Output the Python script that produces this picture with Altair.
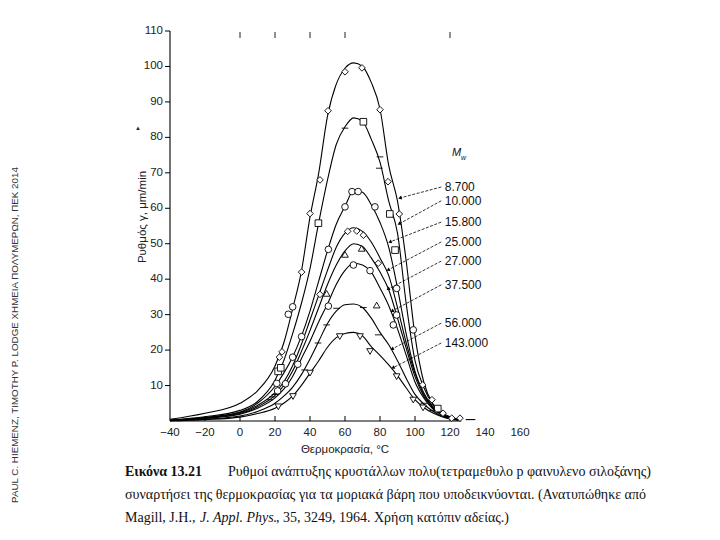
import math
import altair as alt
import pandas as pd

# ---------------- data ----------------
temps = [-40, -20, 0, 10, 20, 25, 30, 35, 40, 45, 50, 55, 60, 65, 70, 75, 80, 85, 90, 95, 100, 105, 110, 115, 120, 125]

mw_labels = ["8.700", "10.000", "15.800", "25.000", "27.000", "37.500", "56.000", "143.000"]

rate_8700 = [0.5, 2.2, 5, 8.5, 15.5, 22, 31.5, 42, 57.5, 70, 86, 95, 99.5, 101, 100, 95.5, 88, 72, 62, 45, 24, 11, 5, 2.5, 1.2, 0.5]
rate_10000 = [0.3, 1.2, 3, 5.5, 11.5, 17, 24.5, 33, 43, 56, 68, 78, 83, 85.5, 84.5, 79.5, 73, 62, 53, 33, 17, 9.5, 4.8, 2.3, 1, 0.4]
rate_15800 = [0.2, 1, 2.5, 5, 9.8, 13.5, 18, 23.8, 31, 39.5, 48, 55.5, 60.5, 65, 64.5, 61, 56, 49, 37.5, 24.5, 14, 8, 4.2, 2, 0.9, 0.3]
rate_25000 = [0.2, 0.9, 2.3, 4.4, 8, 11, 15.5, 21.5, 28.5, 35.5, 42.5, 49, 53, 54.5, 53.5, 50.5, 46, 41, 32, 22, 13.5, 7.5, 4, 2, 0.9, 0.3]
rate_27000 = [0.15, 0.8, 2.1, 4, 7.2, 10, 14, 19.5, 25.5, 32, 38.5, 44, 48, 50, 49.2, 46, 42, 37, 29, 20.5, 12.5, 7, 3.8, 1.9, 0.8, 0.3]
rate_37500 = [0.1, 0.7, 1.9, 3.6, 6.5, 9, 12.5, 17.5, 22.5, 28, 33, 38.5, 42.5, 44.5, 44, 42, 37.5, 32.5, 26, 18.5, 11, 6.5, 3.5, 1.8, 0.8, 0.3]
rate_56000 = [0.1, 0.5, 1.4, 2.7, 5, 7, 9.5, 13, 17.5, 22.5, 27.5, 31, 32.8, 33, 32, 29, 25, 21.5, 17, 12, 7.5, 4.8, 2.8, 1.5, 0.7, 0.3]
rate_143000 = [0.05, 0.4, 1.1, 2.1, 3.6, 5, 7, 10, 13.5, 17, 20.8, 23.5, 24.7, 25, 24, 21, 18.5, 15.8, 12.8, 9.3, 6, 3.8, 2.3, 1.3, 0.6, 0.2]

curves = [rate_8700, rate_10000, rate_15800, rate_25000, rate_27000, rate_37500, rate_56000, rate_143000]

# measured points (marker shape, temperature, rate)
pt_shape = (["diamond"] * 21 + ["square"] * 7 + ["stroke"] * 3 + ["circle"] * 20
            + ["triangle-up"] * 4 + ["stroke"] * 11 + ["triangle-down"] * 9)
pt_temp = ([24, 22.5, 35.2, 40, 45.7, 50.3, 60, 69.7, 80, 84.6, 91, 104.4, 109.7, 116, 121, 125.7,
            45.7, 61.5, 66.7, 70.5, 79]
           + [21.8, 23.3, 44.8, 70.5, 85.6, 88.6, 113]
           + [60, 80, 79.6]
           + [21, 30.1, 35.2, 50.5, 60, 64, 67.5, 77.1, 89.5, 27.6, 30.1, 99,
              50.5, 64.8, 74.3, 87.6, 89.5, 21.5, 26, 33]
           + [60, 69.5, 78.1, 49.5]
           + [37, 44.6, 49.5, 55.2, 70.5, 79, 17, 18.5, 20, 105, 110]
           + [21.9, 30.3, 40, 57, 68.6, 74.3, 89.5, 99, 104.6])
pt_rate = ([19.5, 18, 42, 58.5, 68, 87.5, 98.5, 99.6, 87.8, 67.5, 58.4, 10.2, 6, 2.2, 0.8, 0.8,
            35.7, 53.5, 53.6, 52.4, 44.5]
           + [14, 15, 55.8, 84.4, 58.4, 48.2, 3.5]
           + [82.6, 74.5, 71.3]
           + [10.6, 18, 23.8, 48.4, 60.4, 64.7, 64.7, 60.4, 37.4, 30.1, 32.2, 25.7,
              32.4, 44, 42.4, 27.1, 29.9, 8.5, 10.5, 16]
           + [47, 48.7, 32.7, 36]
           + [14.4, 22, 27.1, 31.8, 32, 24.3, 6, 6.8, 7.5, 5, 3]
           + [4, 6.9, 13.5, 23.8, 23.8, 19.6, 12.5, 5.9, 3.7])

# annotation labels and arrows (data units)
lab_temp = 117
lab_rate = [66.0, 62.1, 56.1, 50.5, 45.1, 38.4, 27.6, 22.0]
arrow_tip_temp = [91.4, 90.9, 85.7, 84.6, 84.6, 86.9, 86.9, 87.4]
arrow_tip_rate = [62.9, 55.6, 50.5, 42.6, 37.2, 31.0, 20.3, 15.0]
arrow_start_temp = 115

x_ticks = [-40, -20, 0, 20, 40, 60, 80, 100, 120, 140, 160]
x_tick_labels = ["−40", "−20", "0", "20", "40", "60", "80", "100", "120", "140", "160"]
y_ticks = [10, 20, 30, 40, 50, 60, 70, 80, 90, 100, 110]
y_tick_labels = ["10", "20", "30", "40", "50", "60", "70", "80", "90", "100", "110"]
inner_ticks = [-20, 0, 20, 40, 60, 80, 100, 120]
top_marks = [0, 20, 40, 60, 120]
x_line = [-40, 126.5]
x_stub = [129, 134.5]

# ---------------- chart ----------------
W, H = 350, 390
XD, YD = [-40, 160], [0, 110]
xs = alt.Scale(domain=XD, nice=False, zero=False)
ys = alt.Scale(domain=YD, nice=False, zero=False)


def X(field):
    return alt.X(field, scale=xs, axis=None)


def Y(field):
    return alt.Y(field, scale=ys, axis=None)


rows = []
for lab, vals in zip(mw_labels, curves):
    for t, v in zip(temps, vals):
        rows.append({"mw": lab, "t": t, "r": v})
curve_df = pd.DataFrame(rows)

lines = alt.Chart(curve_df).mark_line(interpolate="monotone", color="black", strokeWidth=1.1).encode(
    x=X("t:Q"), y=Y("r:Q"), detail="mw:N")

pts_df = pd.DataFrame({"shape": pt_shape, "t": pt_temp, "r": pt_rate})
points = alt.Chart(pts_df).mark_point(filled=True, fill="white", stroke="black", strokeWidth=0.9,
                                      size=44, opacity=1).encode(
    x=X("t:Q"), y=Y("r:Q"), shape=alt.Shape("shape:N", scale=None))

# ---- axes drawn from the tick arrays ----
axis_df = pd.DataFrame({"t": [x_line[0], x_stub[0]], "t2": [x_line[1], x_stub[1]], "r": [0, 0.4]})
xaxis = alt.Chart(axis_df).mark_rule(color="black", strokeWidth=1.1).encode(
    x=X("t:Q"), x2="t2:Q", y=Y("r:Q"))

yaxis = alt.Chart(pd.DataFrame({"t": [XD[0]], "r": [YD[0]], "r2": [YD[1]]})).mark_rule(
    color="black", strokeWidth=1.1).encode(x=X("t:Q"), y=Y("r:Q"), y2="r2:Q")

ytick_df = pd.DataFrame({"r": y_ticks, "lab": y_tick_labels})
yticks = alt.Chart(ytick_df).mark_rule(color="black", strokeWidth=1).encode(
    y=Y("r:Q"), x=alt.value(-5), x2=alt.value(0))
ylabels = alt.Chart(ytick_df).mark_text(align="right", baseline="middle", fontSize=11.5,
                                        font="Liberation Sans", color="#222").encode(
    y=Y("r:Q"), x=alt.value(-7), text="lab:N")

xlab_df = pd.DataFrame({"t": x_ticks, "lab": x_tick_labels})
xlabels = alt.Chart(xlab_df).mark_text(align="center", baseline="middle", fontSize=11.5,
                                       font="Liberation Sans", color="#222").encode(
    x=X("t:Q"), y=alt.value(H + 12), text="lab:N")

tick_df = pd.DataFrame({"t": inner_ticks})
inticks = alt.Chart(tick_df).mark_rule(color="black", strokeWidth=1).encode(
    x=X("t:Q"), y=alt.value(H), y2=alt.value(H - 5))

top_df = pd.DataFrame({"t": top_marks})
topticks = alt.Chart(top_df).mark_rule(color="#222", strokeWidth=1).encode(
    x=X("t:Q"), y=alt.value(1), y2=alt.value(7))

# arrows
px_per_t = W / (XD[1] - XD[0])
px_per_r = H / (YD[1] - YD[0])
angles = []
for sr, tt, tr in zip(lab_rate, arrow_tip_temp, arrow_tip_rate):
    dx = (tt - arrow_start_temp) * px_per_t
    dy = -(tr - sr) * px_per_r
    angles.append(math.degrees(math.atan2(dx, -dy)) % 360)
arr_df = pd.DataFrame({"mw": mw_labels, "t": [arrow_start_temp] * 8, "r": lab_rate,
                       "t2": arrow_tip_temp, "r2": arrow_tip_rate, "ang": angles})
arrows = alt.Chart(arr_df).mark_rule(color="black", strokeWidth=0.8, strokeDash=[3, 1.5]).encode(
    x=X("t:Q"), y=Y("r:Q"), x2="t2:Q", y2="r2:Q")
heads = alt.Chart(arr_df).mark_point(shape="triangle-up", filled=True, color="black", size=16,
                                     opacity=1).encode(
    x=X("t2:Q"), y=Y("r2:Q"), angle=alt.Angle("ang:Q", scale=None))

lab_df = pd.DataFrame({"mw": mw_labels, "t": [lab_temp] * 8, "r": lab_rate})
labels = alt.Chart(lab_df).mark_text(align="left", baseline="middle", fontSize=12,
                                     font="Liberation Sans", color="#111").encode(
    x=X("t:Q"), y=Y("r:Q"), text="mw:N")

mw_m = alt.Chart(pd.DataFrame({"t": [121.2], "r": [75.6], "s": ["M"]})).mark_text(
    align="left", baseline="middle", fontSize=11, fontStyle="italic", font="Liberation Sans",
    color="#111").encode(x=X("t:Q"), y=Y("r:Q"), text="s:N")
mw_w = alt.Chart(pd.DataFrame({"t": [126.3], "r": [74.2], "s": ["w"]})).mark_text(
    align="left", baseline="middle", fontSize=7, fontStyle="italic", font="Liberation Sans",
    color="#111").encode(x=X("t:Q"), y=Y("r:Q"), text="s:N")


def txt(s, x, y, **kw):
    opts = dict(font="Liberation Sans", fontSize=11.5, color="#222", align="left", baseline="middle")
    opts.update(kw)
    return alt.Chart(pd.DataFrame({"s": [s]})).mark_text(**opts).encode(
        x=alt.value(x), y=alt.value(y), text="s:N")


ytitle = txt("Ρυθμός γ, μm/min", -27, 186, angle=270, align="center")
xtitle = txt("Θερμοκρασία, °C", 175, 419, align="center")
tri = txt("▲", -32, 97, fontSize=6, align="center")

side = txt("PAUL C. HIEMENZ, TIMOTHY P. LODGE ΧΗΜΕΙΑ ΠΟΛΥΜΕΡΩΝ, ΠΕΚ 2014", -155, 304,
           angle=270, align="center", fontSize=9.8, color="#333")

serif = "Liberation Serif"
CF = 14
cap1a = txt("Εικόνα 13.21", -45, 441, font=serif, fontSize=CF, fontWeight="bold", color="#111")
cap1b = txt("Ρυθμοί ανάπτυξης κρυστάλλων πολυ(τετραμεθυλο p φαινυλενο σιλοξάνης)", 58, 441,
            font=serif, fontSize=CF, color="#111")
cap2 = txt("συναρτήσει της θερμοκρασίας για τα μοριακά βάρη που υποδεικνύονται. (Ανατυπώθηκε από",
           -45, 464, font=serif, fontSize=CF, color="#111")
cap3a = txt("Magill, J.H.,", -45, 487, font=serif, fontSize=CF, color="#111")
cap3b = txt("J. Appl. Phys.", 30, 487, font=serif, fontSize=CF, fontStyle="italic", color="#111")
cap3c = txt(", 35, 3249, 1964. Χρήση κατόπιν αδείας.)", 106, 487, font=serif, fontSize=CF, color="#111")

chart = alt.layer(
    lines, xaxis, yaxis, yticks, ylabels, xlabels, inticks, topticks, arrows, heads, points,
    labels, mw_m, mw_w, ytitle, xtitle, tri, side, cap1a, cap1b, cap2, cap3a, cap3b, cap3c
).properties(
    width=W, height=H,
    padding={"left": 162, "top": 23, "right": 192, "bottom": 111},
    autosize=alt.AutoSizeParams(type="none"),
    background="white",
).configure_view(stroke=None)

chart.save("out.html", embed_options={"renderer": "svg", "actions": False})
